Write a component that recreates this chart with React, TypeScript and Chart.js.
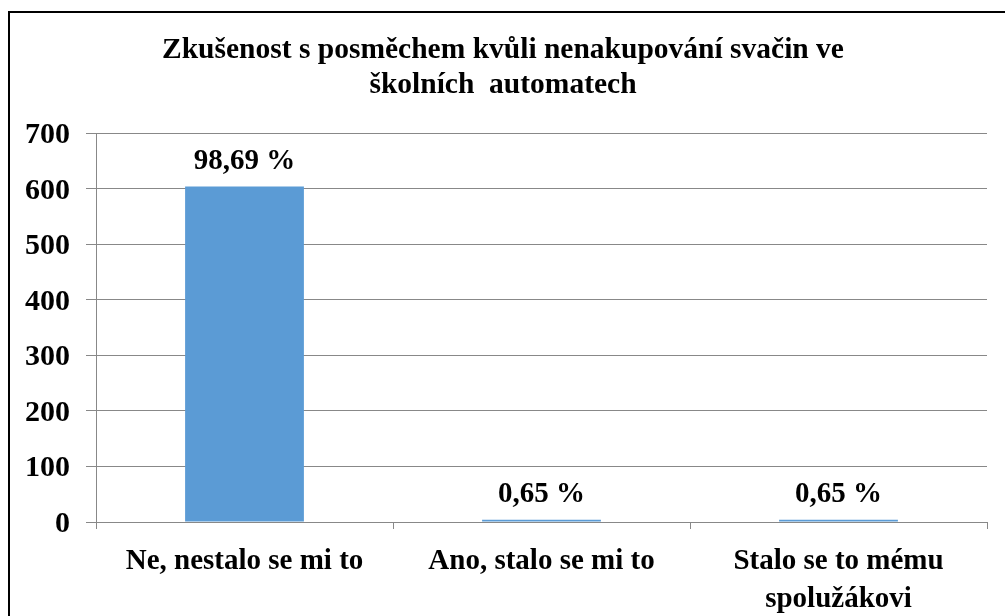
import React, { useEffect, useRef } from "react";
import { Chart, registerables } from "chart.js";

Chart.register(...registerables);

const titleLines = ["Zkušenost s posměchem kvůli nenakupování svačin ve", "školních  automatech"];
const categories: (string | string[])[] = ["Ne, nestalo se mi to", "Ano, stalo se mi to", ["Stalo se to mému", "spolužákovi"]];
const counts = [604, 4, 4];
const percentLabels = ["98,69 %", "0,65 %", "0,65 %"];
const yMin = 0;
const yMax = 700;
const yStep = 100;

const FONT = "'Liberation Serif', 'Times New Roman', serif";

const valueLabelPlugin = {
  id: "valueLabels",
  afterDatasetsDraw(chart: any) {
    const ctx = chart.ctx;
    const meta = chart.getDatasetMeta(0);
    ctx.save();
    ctx.font = `bold 29px ${FONT}`;
    ctx.fillStyle = "#000";
    ctx.textAlign = "center";
    ctx.textBaseline = "alphabetic";
    meta.data.forEach((bar: any, i: number) => {
      ctx.fillText(percentLabels[i], bar.x, bar.y - 18);
    });
    ctx.restore();
  },
};

export default function App() {
  const canvasRef = useRef<HTMLCanvasElement | null>(null);

  useEffect(() => {
    document.body.style.margin = "0";
    document.body.style.overflow = "hidden";
    const canvas = canvasRef.current;
    if (!canvas) return;
    const chart = new Chart(canvas, {
      type: "bar",
      data: {
        labels: categories,
        datasets: [
          {
            data: counts,
            backgroundColor: "#5B9BD5",
            borderWidth: 0,
            barPercentage: 0.4,
            categoryPercentage: 1,
          },
        ],
      },
      options: {
        animation: false,
        responsive: false,
        maintainAspectRatio: false,
        layout: { padding: { left: 19, right: 18, top: 0, bottom: 0 } },
        plugins: {
          legend: { display: false },
          tooltip: { enabled: false },
          title: {
            display: true,
            text: titleLines,
            color: "#000",
            font: { family: FONT, size: 29.5, weight: "bold", lineHeight: 1.19 },
            padding: { top: 33, bottom: 30 },
          },
        },
        scales: {
          x: {
            offset: true,
            grid: {
              display: true,
              offset: true,
              drawOnChartArea: false,
              drawTicks: true,
              tickLength: 7,
              color: "#888888",
            },
            border: { display: true, color: "#888888", width: 1 },
            ticks: {
              color: "#000",
              font: { family: FONT, size: 29, weight: "bold", lineHeight: 1.3 },
              padding: 14,
              maxRotation: 0,
              autoSkip: false,
            },
            afterFit(scale: any) {
              scale.height = 94;
            },
          },
          y: {
            min: yMin,
            max: yMax,
            grid: {
              color: "#888888",
              tickLength: 10,
              lineWidth: 1,
            },
            border: { display: true, color: "#888888", width: 1 },
            ticks: {
              stepSize: yStep,
              color: "#000",
              font: { family: FONT, size: 30, weight: "bold" },
              padding: 16,
              labelOffset: 2,
            },
            afterFit(scale: any) {
              scale.width = 77;
            },
          },
        },
      },
      plugins: [valueLabelPlugin],
    });
    return () => chart.destroy();
  }, []);

  return (
    <div style={{ position: "relative", width: 1005, height: 616, overflow: "hidden", background: "#fff" }}>
      <canvas ref={canvasRef} width={1005} height={616} style={{ position: "absolute", left: 0, top: 0 }} />
      <div
        style={{
          position: "absolute",
          left: 8,
          top: 11,
          width: 1100,
          height: 700,
          border: "2px solid #000",
          boxSizing: "border-box",
          pointerEvents: "none",
        }}
      />
    </div>
  );
}
